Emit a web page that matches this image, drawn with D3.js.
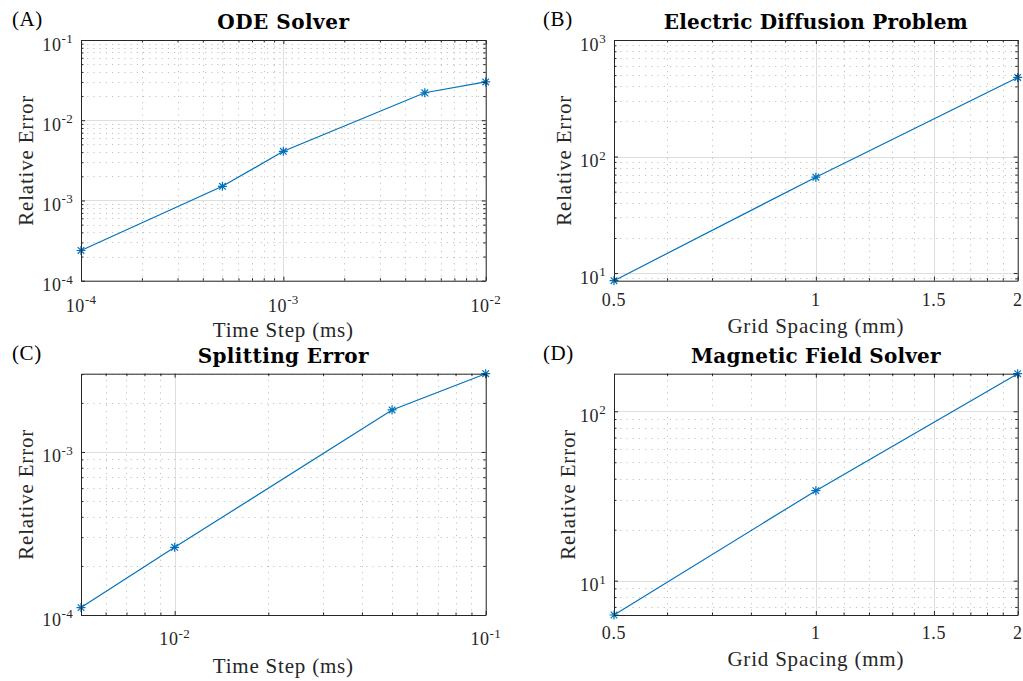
<!DOCTYPE html>
<html>
<head>
<meta charset="utf-8">
<script src="https://cdn.jsdelivr.net/npm/d3@7"></script>
<style>
  html, body { margin: 0; padding: 0; background: #ffffff; }
  svg { display: block; }
</style>
</head>
<body>
<svg id="chart" width="1023" height="681"></svg>
<script>
// ---------------- data ----------------
const odeX   = [1e-4, 5e-4, 1e-3, 5e-3, 1e-2];
const odeY   = [2.38e-4, 1.5e-3, 4.1e-3, 2.2e-2, 3.0e-2];
const elecX  = [0.5, 1, 2];
const elecY  = [8.6, 66.5, 477];
const splitX = [5e-3, 1e-2, 5e-2, 1e-1];
const splitY = [1.11e-4, 2.6e-4, 1.81e-3, 3.02e-3];
const magX   = [0.5, 1, 2];
const magY   = [6.27, 34.0, 166.7];

// ---------------- ticks ----------------
const odeXTicks   = [1e-4, 1e-3, 1e-2];
const odeXLabels  = [["10","-4"], ["10","-3"], ["10","-2"]];
const odeYTicks   = [1e-4, 1e-3, 1e-2, 1e-1];
const odeYLabels  = [["10","-4"], ["10","-3"], ["10","-2"], ["10","-1"]];
const gridXTicks  = [0.5, 1, 1.5, 2];
const gridXLabels = [["0.5",""], ["1",""], ["1.5",""], ["2",""]];
const gridXMinor  = [0.6, 0.7, 0.8, 0.9, 1.1, 1.2, 1.3, 1.4, 1.6, 1.7, 1.8, 1.9];
const elecYTicks  = [10, 100, 1000];
const elecYLabels = [["10","1"], ["10","2"], ["10","3"]];
const splitXTicks = [1e-2, 1e-1];
const splitXLabels= [["10","-2"], ["10","-1"]];
const splitYTicks = [1e-4, 1e-3];
const splitYLabels= [["10","-4"], ["10","-3"]];
const magYTicks   = [10, 100];
const magYLabels  = [["10","1"], ["10","2"]];

const titles  = ["ODE Solver", "Electric Diffusion Problem", "Splitting Error", "Magnetic Field Solver"];
const letters = ["(A)", "(B)", "(C)", "(D)"];
const xTitles = ["Time Step (ms)", "Grid Spacing (mm)", "Time Step (ms)", "Grid Spacing (mm)"];
const yTitle  = "Relative Error";

// ---------------- style ----------------
const FONT = "'Liberation Serif', 'Times New Roman', serif";
const TFONT = "'DejaVu Serif', serif";
const LINE = "#0072BD";
const AX = "#262626";

const svg = d3.select("#chart");

function logMinors(domain) {
  const out = [];
  const lo = Math.floor(Math.log10(domain[0])), hi = Math.ceil(Math.log10(domain[1]));
  for (let d = lo; d < hi; d++) {
    for (let k = 2; k <= 9; k++) {
      const v = k * Math.pow(10, d);
      if (v > domain[0] * 1.0001 && v < domain[1] * 0.9999) out.push(v);
    }
  }
  return out;
}

function addLabel(sel, x, y, parts, anchor, size) {
  const t = sel.append("text")
    .attr("x", x).attr("y", y)
    .attr("text-anchor", anchor)
    .attr("font-family", FONT)
    .attr("font-size", size)
    .attr("letter-spacing", 0.6)
    .attr("fill", AX);
  t.append("tspan").text(parts[0]);
  if (parts[1]) {
    t.append("tspan").attr("dy", -7.5).attr("font-size", 13).attr("letter-spacing", 0.3).text(parts[1]);
  }
}

function drawPanel(p, i) {
  const g = svg.append("g");
  const { l, r, t, b } = p.box;
  const x = d3.scaleLog().domain(p.xDomain).range([l, r]);
  const y = d3.scaleLog().domain(p.yDomain).range([b, t]);
  const xMinor = p.xMinor || logMinors(p.xDomain);
  const yMinor = logMinors(p.yDomain);

  // minor grid (dotted)
  const mg = g.append("g").attr("stroke", "#c2c2c2").attr("stroke-width", 1)
    .attr("stroke-dasharray", "1.2,5");
  mg.selectAll("line.vx").data(xMinor).join("line")
    .attr("x1", d => Math.round(x(d)) + 0.5).attr("x2", d => Math.round(x(d)) + 0.5)
    .attr("y1", t).attr("y2", b);
  mg.selectAll("line.hy").data(yMinor).join("line")
    .attr("y1", d => Math.round(y(d)) + 0.5).attr("y2", d => Math.round(y(d)) + 0.5)
    .attr("x1", l).attr("x2", r);

  // major grid (solid light)
  const Mg = g.append("g").attr("stroke", "#dedede").attr("stroke-width", 1);
  Mg.selectAll("line.vx").data(p.xTicks).join("line")
    .attr("x1", d => Math.round(x(d)) + 0.5).attr("x2", d => Math.round(x(d)) + 0.5)
    .attr("y1", t).attr("y2", b);
  Mg.selectAll("line.hy").data(p.yTicks.filter(v => v >= p.yDomain[0] && v <= p.yDomain[1])).join("line")
    .attr("y1", d => Math.round(y(d)) + 0.5).attr("y2", d => Math.round(y(d)) + 0.5)
    .attr("x1", l).attr("x2", r);

  // data line
  const pts = p.xs.map((v, k) => [v, p.ys[k]]);
  g.append("path")
    .attr("d", d3.line().x(d => x(d[0])).y(d => y(d[1]))(pts))
    .attr("fill", "none").attr("stroke", LINE).attr("stroke-width", 1.2);

  // asterisk markers
  const s = 4.5, q = 3.3;
  const star = `M${-s},0L${s},0M0,${-s}L0,${s}M${-q},${-q}L${q},${q}M${-q},${q}L${q},${-q}`;
  g.selectAll("path.mk").data(pts).join("path")
    .attr("transform", d => `translate(${x(d[0])},${y(d[1])})`)
    .attr("d", star).attr("fill", "none").attr("stroke", LINE).attr("stroke-width", 1.2);

  // axes: major + minor ticks on all four sides (pointing inward)
  const yMaj = p.yTicks.filter(v => v >= p.yDomain[0] && v <= p.yDomain[1]);
  function ax(fn, scale, vals, size, tr, keepDomain) {
    const a = g.append("g").attr("transform", tr)
      .call(fn(scale).tickValues(vals).tickSizeInner(size).tickSizeOuter(0).tickFormat(""));
    a.selectAll("line").attr("stroke", AX);
    a.select(".domain").attr("stroke", AX).attr("stroke-width", 1);
    if (!keepDomain) a.select(".domain").remove();
    a.selectAll("text").remove();
  }
  ax(d3.axisBottom, x, xMinor, -2.5, `translate(0,${b})`, false);
  ax(d3.axisTop, x, xMinor, -2.5, `translate(0,${t})`, false);
  ax(d3.axisLeft, y, yMinor, -2.5, `translate(${l},0)`, false);
  ax(d3.axisRight, y, yMinor, -2.5, `translate(${r},0)`, false);
  ax(d3.axisBottom, x, p.xTicks, -4, `translate(0,${b})`, true);
  ax(d3.axisTop, x, p.xTicks, -4, `translate(0,${t})`, true);
  ax(d3.axisLeft, y, yMaj, -4, `translate(${l},0)`, true);
  ax(d3.axisRight, y, yMaj, -4, `translate(${r},0)`, true);

  // tick labels
  p.xTicks.forEach((v, k) => addLabel(g, x(v), b + p.xLabOff, p.xLabels[k], "middle", 18));
  p.yTicks.forEach((v, k) => {
    if (v >= p.yDomain[0] * 0.999 && v <= p.yDomain[1] * 1.001)
      addLabel(g, l - 8, y(v) + 10.5, p.yLabels[k], "end", 18);
  });

  // titles
  g.append("text").attr("x", (l + r) / 2).attr("y", t - 11)
    .attr("text-anchor", "middle").attr("font-family", TFONT).attr("font-weight", "bold")
    .attr("font-size", 20).attr("letter-spacing", p.titleLS).attr("fill", "#000").text(titles[i]);
  g.append("text").attr("x", p.letterX).attr("y", t - 14)
    .attr("font-family", FONT).attr("font-size", 21).attr("letter-spacing", 0.6)
    .attr("fill", "#000").text(letters[i]);
  g.append("text").attr("x", (l + r) / 2).attr("y", b + p.xTitleOff)
    .attr("text-anchor", "middle").attr("font-family", FONT).attr("font-size", 21)
    .attr("letter-spacing", 0.8).attr("fill", AX).text(xTitles[i]);
  g.append("text")
    .attr("transform", `translate(${p.yTitleX},${(t + b) / 2}) rotate(-90)`)
    .attr("text-anchor", "middle").attr("font-family", FONT).attr("font-size", 21)
    .attr("letter-spacing", 0.8).attr("fill", AX).text(yTitle);
}

const panels = [
  { box: { l: 81, r: 485.7, t: 40, b: 280.7 }, xDomain: [1e-4, 1e-2], yDomain: [1e-4, 1e-1],
    xs: odeX, ys: odeY, xTicks: odeXTicks, xLabels: odeXLabels, yTicks: odeYTicks, yLabels: odeYLabels,
    xLabOff: 31, xTitleOff: 56, yTitleX: 33, letterX: 12, titleLS: 0.5 },
  { box: { l: 614, r: 1017.7, t: 40, b: 280.7 }, xDomain: [0.5, 2], yDomain: [8.6, 1000],
    xs: elecX, ys: elecY, xTicks: gridXTicks, xLabels: gridXLabels, xMinor: gridXMinor,
    yTicks: elecYTicks, yLabels: elecYLabels,
    xLabOff: 25.5, xTitleOff: 52.5, yTitleX: 570.5, letterX: 543, titleLS: 0.2 },
  { box: { l: 81, r: 485.7, t: 373.7, b: 615 }, xDomain: [5e-3, 1e-1], yDomain: [1e-4, 3.02e-3],
    xs: splitX, ys: splitY, xTicks: splitXTicks, xLabels: splitXLabels, yTicks: splitYTicks, yLabels: splitYLabels,
    xLabOff: 30, xTitleOff: 57.5, yTitleX: 33, letterX: 12, titleLS: 0.4 },
  { box: { l: 614, r: 1017.7, t: 373.7, b: 615 }, xDomain: [0.5, 2], yDomain: [6.27, 166.7],
    xs: magX, ys: magY, xTicks: gridXTicks, xLabels: gridXLabels, xMinor: gridXMinor,
    yTicks: magYTicks, yLabels: magYLabels,
    xLabOff: 23.5, xTitleOff: 50.5, yTitleX: 575, letterX: 543, titleLS: 0.2 }
];

panels.forEach(drawPanel);
</script>
</body>
</html>
